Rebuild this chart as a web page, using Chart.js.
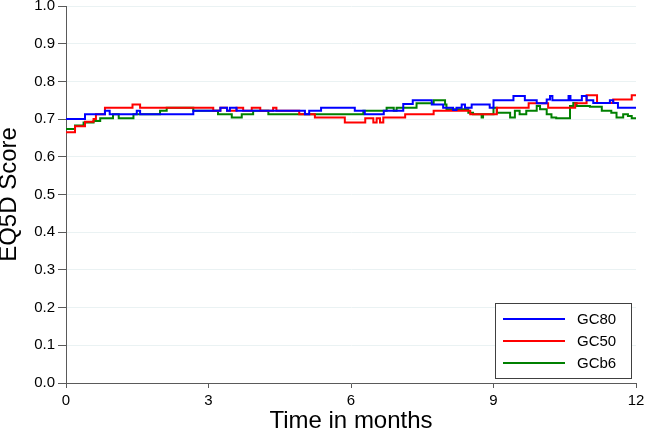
<!DOCTYPE html>
<html lang="en">
<head>
  <meta charset="UTF-8">
  <title>EQ5D Score over time</title>
  <script src="https://cdn.jsdelivr.net/npm/chart.js"></script>
  <style>
    body { margin: 0; background: #ffffff; }
    #grafico { display: block; }
  </style>
</head>
<body>
  <canvas id="grafico" width="645" height="431"></canvas>

  <script>
    // step changes: month where the value starts, and the value
    const gc80Meses = [0, 0.40, 0.82, 0.92, 1.49, 1.56, 2.68, 3.25, 3.39, 3.45, 3.59, 5.03, 5.12, 5.37, 6.08, 6.29, 6.69, 7.10, 7.30, 7.70, 7.94, 8.15, 8.22, 8.33, 8.40, 8.54, 8.92, 9.00, 9.42, 9.66, 9.91, 10.12, 10.19, 10.24, 10.58, 10.62, 10.86, 10.96, 11.10, 11.45, 11.52, 11.62, 12];
    const gc80Score = [0.700, 0.713, 0.722, 0.713, 0.722, 0.713, 0.722, 0.730, 0.722, 0.730, 0.722, 0.713, 0.722, 0.730, 0.722, 0.713, 0.722, 0.740, 0.750, 0.739, 0.730, 0.724, 0.730, 0.739, 0.730, 0.739, 0.730, 0.750, 0.761, 0.750, 0.742, 0.752, 0.761, 0.750, 0.761, 0.750, 0.761, 0.750, 0.743, 0.750, 0.743, 0.730, 0.730];

    const gc50Meses = [0, 0.19, 0.40, 0.58, 0.63, 0.82, 1.40, 1.56, 3.10, 3.25, 3.39, 3.59, 3.73, 3.91, 4.09, 4.36, 4.43, 4.91, 5.24, 5.87, 6.30, 6.47, 6.54, 6.61, 6.68, 7.14, 7.74, 8.51, 9.07, 9.74, 10.15, 10.72, 10.96, 11.18, 11.52, 11.91, 12];
    const gc50Score = [0.665, 0.681, 0.693, 0.700, 0.713, 0.730, 0.739, 0.730, 0.722, 0.730, 0.722, 0.730, 0.722, 0.730, 0.722, 0.730, 0.722, 0.713, 0.704, 0.691, 0.702, 0.691, 0.702, 0.691, 0.704, 0.713, 0.722, 0.713, 0.730, 0.742, 0.730, 0.742, 0.763, 0.743, 0.752, 0.763, 0.763];

    const gcb6Meses = [0, 0.19, 0.37, 0.58, 0.72, 0.99, 1.11, 1.42, 1.98, 2.12, 2.68, 3.20, 3.49, 3.70, 3.94, 4.26, 6.26, 6.75, 6.90, 6.96, 7.38, 7.74, 7.98, 8.01, 8.47, 8.57, 8.75, 8.78, 9.00, 9.07, 9.35, 9.45, 9.55, 9.69, 9.91, 9.98, 10.12, 10.22, 10.32, 10.61, 10.68, 10.75, 11.03, 11.28, 11.48, 11.59, 11.73, 11.83, 11.91, 12];
    const gcb6Score = [0.674, 0.683, 0.691, 0.695, 0.702, 0.713, 0.702, 0.713, 0.722, 0.730, 0.722, 0.713, 0.704, 0.713, 0.722, 0.713, 0.722, 0.730, 0.722, 0.730, 0.742, 0.750, 0.739, 0.726, 0.717, 0.713, 0.704, 0.713, 0.730, 0.717, 0.704, 0.722, 0.713, 0.722, 0.735, 0.726, 0.713, 0.704, 0.702, 0.735, 0.743, 0.735, 0.733, 0.722, 0.717, 0.704, 0.713, 0.708, 0.702, 0.702];

    const nombres = ['GC80', 'GC50', 'GCb6'];
    const colores = ['#0000ff', '#ff0000', '#008000'];
    const mesesTicks = [0, 3, 6, 9, 12];

    function puntos(meses, valores) {
      return meses.map((m, i) => ({ x: m, y: valores[i] }));
    }

    const ejeColor = '#5a5a5a';
    const fuente = 'Liberation Sans, Arial, sans-serif';

    // legend box drawn inside the plot, bottom right
    const leyendaCaja = {
      id: 'leyendaCaja',
      afterDraw(chart) {
        const ctx = chart.ctx;
        const area = chart.chartArea;
        const w = 136, h = 75;
        const x0 = area.right - 5 - w;
        const y0 = area.bottom - 5 - h;
        ctx.save();
        ctx.fillStyle = '#ffffff';
        ctx.fillRect(x0, y0, w, h);
        ctx.strokeStyle = '#404040';
        ctx.lineWidth = 1;
        ctx.strokeRect(x0 + 0.5, y0 + 0.5, w, h);
        ctx.font = '15px ' + fuente;
        ctx.textBaseline = 'middle';
        chart.data.datasets.forEach((ds, i) => {
          const yy = y0 + 16 + i * 22;
          ctx.strokeStyle = ds.borderColor;
          ctx.lineWidth = 2;
          ctx.beginPath();
          ctx.moveTo(x0 + 8, yy);
          ctx.lineTo(x0 + 70, yy);
          ctx.stroke();
          ctx.fillStyle = '#000000';
          ctx.fillText(ds.label, x0 + 82, yy + 1);
        });
        ctx.restore();
      }
    };

    new Chart(document.getElementById('grafico'), {
      type: 'line',
      data: {
        datasets: [
          { label: nombres[0], data: puntos(gc80Meses, gc80Score), borderColor: colores[0] },
          { label: nombres[1], data: puntos(gc50Meses, gc50Score), borderColor: colores[1] },
          { label: nombres[2], data: puntos(gcb6Meses, gcb6Score), borderColor: colores[2] }
        ]
      },
      options: {
        responsive: false,
        animation: false,
        devicePixelRatio: 1,
        layout: { padding: { top: 6, right: 9, left: 0, bottom: 0 } },
        elements: {
          line: { stepped: true, borderWidth: 2, tension: 0 },
          point: { radius: 0, hoverRadius: 0 }
        },
        plugins: {
          legend: { display: false },
          tooltip: { enabled: false }
        },
        scales: {
          x: {
            type: 'linear',
            min: 0,
            max: 12,
            afterBuildTicks: s => { s.ticks = mesesTicks.map(v => ({ value: v })); },
            afterFit: s => { s.height = 48; s.paddingLeft = 0; s.paddingRight = 0; },
            border: { color: ejeColor, width: 1 },
            grid: { drawOnChartArea: false, drawTicks: true, tickLength: 5, tickColor: ejeColor },
            ticks: { color: '#000000', padding: 4, maxRotation: 0, font: { family: fuente, size: 15 } },
            title: {
              display: true,
              text: 'Time in months',
              color: '#000000',
              font: { family: fuente, size: 24, lineHeight: 1 },
              padding: { top: 0, bottom: -2 }
            }
          },
          y: {
            min: 0,
            max: 1,
            afterFit: s => { s.width = 66; s.paddingTop = 0; s.paddingBottom = 0; },
            border: { color: ejeColor, width: 1 },
            grid: { color: '#eaf2f3', lineWidth: 1, drawTicks: true, tickLength: 8, tickColor: ejeColor },
            ticks: {
              stepSize: 0.1,
              color: '#000000',
              padding: 3,
              font: { family: fuente, size: 15 },
              callback: v => v.toFixed(1)
            },
            title: {
              display: true,
              text: 'EQ5D Score',
              color: '#000000',
              font: { family: fuente, size: 24, lineHeight: 1 },
              padding: { top: -2.5, bottom: 0 }
            }
          }
        }
      },
      plugins: [leyendaCaja]
    });
  </script>
</body>
</html>
